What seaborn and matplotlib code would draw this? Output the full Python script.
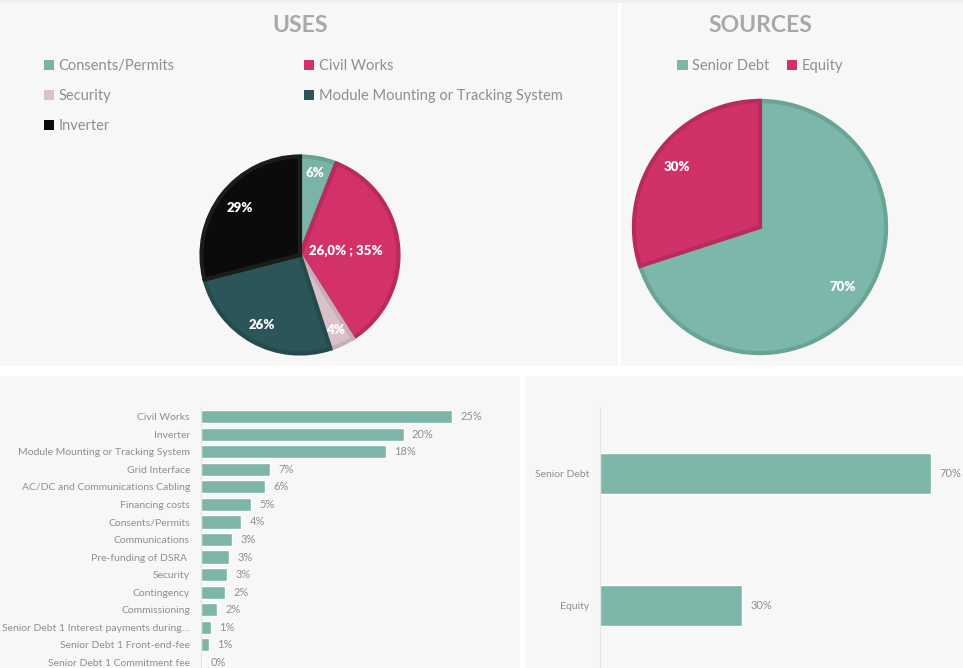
import numpy as np
import pandas as pd
import matplotlib
matplotlib.use("Agg")
import matplotlib.pyplot as plt
import seaborn as sns
from matplotlib.patches import Rectangle, Patch

sns.set_theme(style="white")
plt.rcParams['font.family'] = ['Lato', 'DejaVu Sans']

# ---- data ----
uses_labels = ["Consents/Permits", "Civil Works", "Security",
               "Module Mounting or Tracking System", "Inverter"]
uses_share = [6, 35, 4, 26, 29]
uses_text = ["6%", "26,0% ; 35%", "4%", "26%", "29%"]

sources_labels = ["Senior Debt", "Equity"]
sources_share = [70, 30]

cost_items = ["Civil Works", "Inverter", "Module Mounting or Tracking System",
              "Grid Interface", "AC/DC and Communications Cabling",
              "Financing costs", "Consents/Permits", "Communications",
              "Pre-funding of DSRA ", "Security", "Contingency",
              "Commissioning", "Senior Debt 1 Interest payments during\u2026",
              "Senior Debt 1 Front-end-fee", "Senior Debt 1 Commitment fee"]
cost_share = [0.250, 0.202, 0.184, 0.069, 0.064, 0.050, 0.040, 0.031,
              0.028, 0.026, 0.024, 0.016, 0.010, 0.008, 0.001]

fund_items = ["Senior Debt", "Equity"]
fund_share = [0.70, 0.30]

# ---- style ----
W, H = 963, 668
panel = "#f7f7f7"
grey_txt = "#8f8f8f"
title_col = "#a8a8a8"
teal = "#7db5a9"
uses_face = ["#7ab3a7", "#d2316a", "#d9c1ca", "#2b5559", "#0b0b0b"]
uses_edge = ["#68a295", "#b92a5d", "#c8aeb8", "#234a4d", "#1c1c1c"]
uses_dist = [0.83, 0.46, 0.83, 0.80, 0.76]
src_face = ["#7db6aa", "#d13169"]
src_edge = ["#6aa495", "#b92b5d"]


def box(x0, y0, x1, y1):
    # pixel box (top-left origin) -> figure fraction rect
    return [x0 / W, 1 - y1 / H, (x1 - x0) / W, (y1 - y0) / H]


fig = plt.figure(figsize=(W / 100, H / 100), dpi=100, facecolor="white")

for x0, y0, x1, y1 in [(0, 0, 618, 366), (621, 0, 963, 366),
                       (0, 376, 520, 668), (525, 376, 963, 668)]:
    fig.patches.append(Rectangle((x0 / W, 1 - y1 / H), (x1 - x0) / W, (y1 - y0) / H,
                                 transform=fig.transFigure, facecolor=panel,
                                 edgecolor="none", zorder=-10))
# faint shadow along the top edge
fig.patches.append(Rectangle((0, 1 - 3 / H), 1, 3 / H, transform=fig.transFigure,
                             facecolor="#efefef", edgecolor="none", zorder=-9))


def draw_pie(rect, shares, faces, edges, texts, dists):
    ax = fig.add_axes(rect)
    ax.set_facecolor("none")
    wedges, _ = ax.pie(shares, colors=faces, startangle=90, counterclock=False,
                       radius=0.985, wedgeprops=dict(linewidth=3))
    for w, ec, t, d in zip(wedges, edges, texts, dists):
        w.set_edgecolor(ec)
        w.set_joinstyle("miter")
        ang = np.deg2rad((w.theta1 + w.theta2) / 2)
        ax.text(d * np.cos(ang), d * np.sin(ang), t, ha="center", va="center",
                color="white", fontsize=9.5, fontweight="heavy")
    ax.set_xlim(-1, 1)
    ax.set_ylim(-1, 1)
    ax.set_aspect("equal")
    return wedges


# USES pie
draw_pie(box(200, 155, 400, 355), uses_share, uses_face, uses_edge,
         uses_text, uses_dist)
fig.text(300 / W, 1 - 25 / H, "USES", ha="center", va="center",
         fontsize=16.5, fontweight="bold", color=title_col)


def sq(c):
    return Patch(facecolor=c, edgecolor="none")


leg_kw = dict(frameon=False, fontsize=10.5, labelcolor=grey_txt,
              handlelength=0.7, handleheight=0.7, handletextpad=0.3,
              labelspacing=1.1, borderpad=0, borderaxespad=0)
fig.legend([sq(uses_face[i]) for i in (0, 2, 4)],
           [uses_labels[i] for i in (0, 2, 4)],
           loc="upper left", bbox_to_anchor=(44 / W, 1 - 59 / H), **leg_kw)
fig.legend([sq(uses_face[i]) for i in (1, 3)],
           [uses_labels[i] for i in (1, 3)],
           loc="upper left", bbox_to_anchor=(304 / W, 1 - 59 / H), **leg_kw)

# SOURCES pie
draw_pie(box(632, 99, 888, 355), sources_share, src_face, src_edge,
         [f"{v}%" for v in sources_share], [0.8, 0.8])
fig.text(760 / W, 1 - 25 / H, "SOURCES", ha="center", va="center",
         fontsize=16.5, fontweight="bold", color=title_col)
fig.legend([sq(c) for c in src_face], sources_labels, ncol=2,
           loc="upper center", bbox_to_anchor=(760 / W, 1 - 59 / H),
           columnspacing=1.2, **leg_kw)


def draw_bars(rect, items, shares, xmax, width):
    ax = fig.add_axes(rect)
    ax.set_facecolor("none")
    df = pd.DataFrame({"item": items, "share": shares})
    sns.barplot(data=df, y="item", x="share", orient="h", color=teal,
                saturation=1, width=width, ax=ax)
    ax.bar_label(ax.containers[0], labels=[f"{v:.0%}" for v in shares],
                 padding=6, fontsize=8, color=grey_txt)
    ax.set_xlim(0, xmax)
    ax.set_ylim(len(items) - 0.5, -0.5)
    ax.set_xlabel("")
    ax.set_ylabel("")
    ax.set_xticks([])
    ax.tick_params(axis="y", length=0, pad=8, labelsize=7.5, labelcolor=grey_txt)
    for s in ("top", "right", "bottom"):
        ax.spines[s].set_visible(False)
    ax.spines["left"].set_color("#e3e3e3")
    ax.spines["left"].set_linewidth(0.8)
    return ax


draw_bars(box(201, 408, 502, 671), cost_items, cost_share, 0.30, 0.75)
draw_bars(box(600, 408, 955, 671), fund_items, fund_share, 0.75, 0.31)

fig.savefig("out.png", dpi=100, facecolor="white")
